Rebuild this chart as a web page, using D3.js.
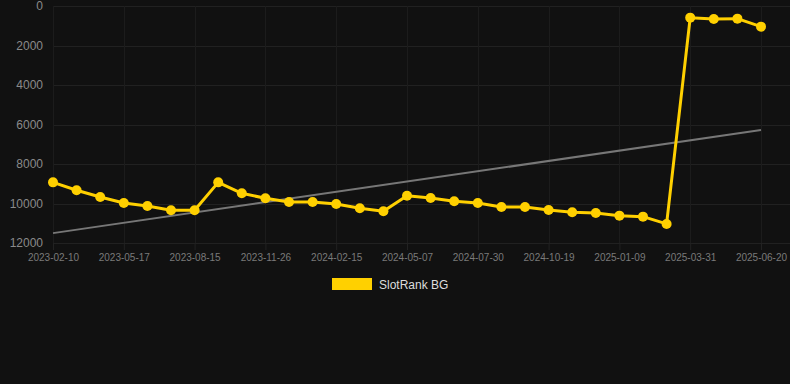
<!DOCTYPE html>
<html><head><meta charset="utf-8">
<script src="https://cdn.jsdelivr.net/npm/d3@7"></script>
<style>html,body{margin:0;padding:0;background:#111111;}svg{display:block;}</style>
</head><body>
<svg id="c" width="790" height="384"></svg>
<script>
const dates = ["2023-02-10","2023-03-14","2023-04-15","2023-05-17","2023-06-16","2023-07-16","2023-08-15","2023-09-18","2023-10-22","2023-11-26","2023-12-23","2024-01-19","2024-02-15","2024-03-12","2024-04-09","2024-05-07","2024-06-04","2024-07-02","2024-07-30","2024-08-26","2024-09-22","2024-10-19","2024-11-15","2024-12-12","2025-01-09","2025-02-05","2025-03-04","2025-03-31","2025-04-27","2025-05-24","2025-06-20"];
const rank = [8930,9330,9670,9975,10125,10345,10345,8930,9485,9735,9920,9920,10025,10245,10395,9610,9720,9890,9975,10175,10175,10330,10445,10480,10615,10665,11035,590,655,640,1045];
const trend = [11500, 6280];
const yTicks = [0,2000,4000,6000,8000,10000,12000];
const seriesName = "SlotRank BG";

const svg = d3.select("#c");
const x = d3.scalePoint().domain(dates).range([53, 761]);
const y = d3.scaleLinear().domain([0, 12000]).range([6, 243]);
const gridRight = 790;

// horizontal grid
svg.append("g").selectAll("line").data(yTicks).join("line")
  .attr("x1", 53).attr("x2", gridRight)
  .attr("y1", d => Math.round(y(d)) + 0.5).attr("y2", d => Math.round(y(d)) + 0.5)
  .attr("stroke", "#212121").attr("stroke-width", 1);

const labeled = dates.filter((d, i) => i % 3 === 0);
// vertical grid
svg.append("g").selectAll("line").data(labeled).join("line")
  .attr("x1", d => Math.round(x(d)) + 0.5).attr("x2", d => Math.round(x(d)) + 0.5)
  .attr("y1", 6).attr("y2", 243)
  .attr("stroke", "#1c1c1c").attr("stroke-width", 1);

// y axis labels
const yAxis = d3.axisLeft(y).tickValues(yTicks).tickSize(0).tickPadding(0).tickFormat(d3.format("d"));
const gy = svg.append("g").attr("transform", "translate(43,0)").call(yAxis);
gy.select(".domain").remove();
gy.selectAll("text").attr("fill", "#8a8a8a").style("font-family", "Liberation Sans, Arial, sans-serif").style("font-size", "12px");

// x axis
const xAxis = d3.axisBottom(x).tickValues(labeled).tickSize(7).tickPadding(4);
const gx = svg.append("g").attr("transform", "translate(0,243)").call(xAxis);
gx.select(".domain").remove();
gx.selectAll("line").attr("stroke", "#222222");
gx.selectAll("text").attr("fill", "#7a7a7a").style("font-family", "Liberation Sans, Arial, sans-serif").style("font-size", "10px");

// trend line
svg.append("line")
  .attr("x1", x(dates[0])).attr("y1", y(trend[0]))
  .attr("x2", x(dates[dates.length - 1])).attr("y2", y(trend[1]))
  .attr("stroke", "#777777").attr("stroke-width", 2);

// series line
const line = d3.line().x((d, i) => x(dates[i])).y(d => y(d));
svg.append("path").datum(rank).attr("d", line)
  .attr("fill", "none").attr("stroke", "#FFD000").attr("stroke-width", 3).attr("stroke-linejoin", "round");
svg.append("g").selectAll("circle").data(rank).join("circle")
  .attr("cx", (d, i) => x(dates[i])).attr("cy", d => y(d)).attr("r", 5)
  .attr("fill", "#FFD000");

// legend
svg.append("rect").attr("x", 332).attr("y", 278).attr("width", 40).attr("height", 12).attr("fill", "#FFD000");
svg.append("text").attr("x", 379).attr("y", 289).text(seriesName)
  .attr("fill", "#dddddd").style("font-family", "Liberation Sans, Arial, sans-serif").style("font-size", "12px");
</script>
</body></html>
